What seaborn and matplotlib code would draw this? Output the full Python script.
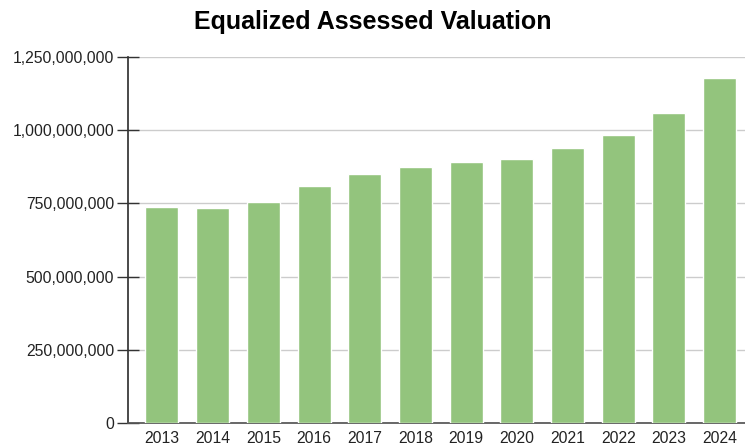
import pandas as pd
import matplotlib.pyplot as plt
import matplotlib.ticker as mticker
import seaborn as sns

sns.set_theme(style="white")
plt.rcParams['font.family'] = ['Liberation Sans', 'DejaVu Sans']

years = ['2013', '2014', '2015', '2016', '2017', '2018',
         '2019', '2020', '2021', '2022', '2023', '2024']
valuation = [737e6, 733e6, 756e6, 809e6, 850e6, 873e6,
             890e6, 900e6, 940e6, 985e6, 1058e6, 1178e6]

df = pd.DataFrame({'year': years, 'eav': valuation})

fig = plt.figure(figsize=(7.45, 4.48), dpi=100)
ax = fig.add_axes([128 / 745, 25 / 448, 1 - 128 / 745, 366 / 448])

sns.barplot(data=df, x='year', y='eav', color='#93C47D', saturation=1,
            width=0.65, ax=ax, zorder=3)

ax.set_ylim(0, 1.25e9)
ax.set_xlim(-0.67, 11.5)
ax.set_yticks([0, 250e6, 500e6, 750e6, 1000e6, 1250e6])
ax.yaxis.set_major_formatter(mticker.FuncFormatter(lambda v, p: f"{int(v):,}"))
ax.yaxis.grid(True, color='#CCCCCC', linewidth=1, zorder=0)
ax.set_xlabel('')
ax.set_ylabel('')

for s in ['top', 'right']:
    ax.spines[s].set_visible(False)
ax.spines['left'].set_color('#333333')
ax.spines['bottom'].set_color('#555555')
ax.tick_params(axis='y', direction='inout', length=16, width=1, color='#333333',
               labelsize=11.3, labelcolor='#222222', pad=2, left=True)
ax.tick_params(axis='x', length=0, labelsize=11.3, labelcolor='#222222', pad=6)

fig.suptitle('Equalized Assessed Valuation', fontsize=18, fontweight='bold',
             color='black', x=0.5, y=0.978, va='top')

plt.savefig('out.png', dpi=100)
